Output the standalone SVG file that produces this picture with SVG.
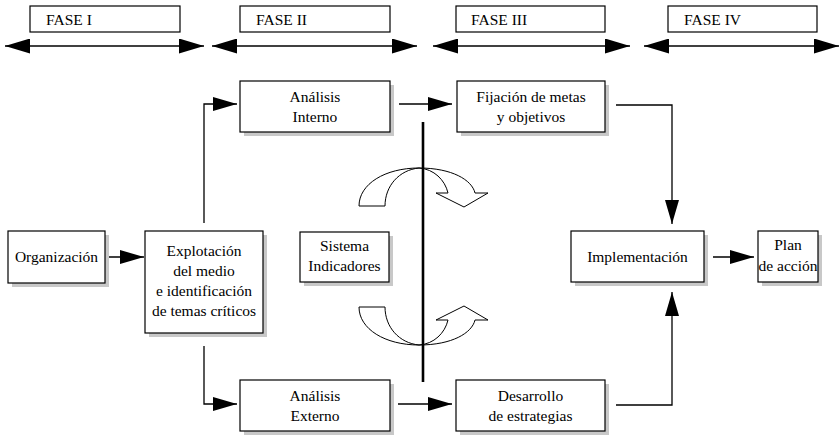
<svg xmlns="http://www.w3.org/2000/svg" width="840" height="435" viewBox="0 0 840 435" font-family="'Liberation Serif', 'Times New Roman', Times, serif">
<defs>
<style>
text{font-family:'Liberation Serif','Times New Roman',Times,serif;font-size:15.5px;fill:#000}
.c{text-anchor:middle}
.box{fill:#fff;stroke:#000;stroke-width:1.2}
.sh{fill:#c8c8c8}
.ph{fill:#fff;stroke:#000;stroke-width:1.2}
.pa{fill:none;stroke:#000;stroke-width:1.6;marker-start:url(#h2s);marker-end:url(#h2)}
.cn{fill:none;stroke:#000;stroke-width:1.3;marker-end:url(#h)}
.rot{fill:#fff;stroke:#000;stroke-width:1}
</style>
<marker id="h" markerUnits="userSpaceOnUse" markerWidth="26" markerHeight="16" refX="24" refY="7" orient="auto">
<path d="M0,0 L24,7 L0,14 z" fill="#000"/>
</marker>
<marker id="h2" markerUnits="userSpaceOnUse" markerWidth="27" markerHeight="17" refX="25" refY="7.5" orient="auto">
<path d="M0,0 L25,7.5 L0,15 z" fill="#000"/>
</marker>
<marker id="h2s" markerUnits="userSpaceOnUse" markerWidth="27" markerHeight="17" refX="0" refY="7.5" orient="auto">
<path d="M25,0 L0,7.5 L25,15 z" fill="#000"/>
</marker>
</defs>

<g id="phases">
<g id="fase1"><rect class="ph" x="30" y="6" width="150" height="26"/><text x="46" y="25">FASE I</text><line class="pa" x1="5" y1="46" x2="204" y2="46"/></g>
<g id="fase2"><rect class="ph" x="240" y="6" width="150" height="26"/><text x="256" y="25">FASE II</text><line class="pa" x1="212" y1="46" x2="417" y2="46"/></g>
<g id="fase3"><rect class="ph" x="456" y="6" width="149" height="26"/><text x="471" y="25">FASE III</text><line class="pa" x1="433" y1="46" x2="630" y2="46"/></g>
<g id="fase4"><rect class="ph" x="668" y="6" width="149" height="26"/><text x="684" y="25">FASE IV</text><line class="pa" x1="644" y1="46" x2="839" y2="46"/></g>
</g>

<g id="rotations">
<path id="rotTop" class="rot" d="M359,206 C359,184 385,168 419,168 C452,168 472,180 475,193 L488,193 L464,207 L436,193 L448,193 C445,180 434,169 419,168 C399,170 385,186 385,206 Z"/>
<path id="rotBottom" class="rot" transform="translate(0,513) scale(1,-1)" d="M359,206 C359,184 385,168 419,168 C452,168 472,180 475,193 L488,193 L464,207 L436,193 L448,193 C445,180 434,169 419,168 C399,170 385,186 385,206 Z"/>
<line x1="423" y1="122" x2="423" y2="382" stroke="#000" stroke-width="2.6"/>
</g>

<g id="connectors">
<line class="cn" x1="109" y1="257" x2="144" y2="257"/>
<polyline class="cn" points="204,223 204,104 237,104"/>
<polyline class="cn" points="204,346 204,404 237,404"/>
<line class="cn" x1="399" y1="104" x2="452" y2="104"/>
<line class="cn" x1="398" y1="404" x2="452" y2="404"/>
<polyline class="cn" points="616,105 672,105 672,224"/>
<polyline class="cn" points="616,405 672,405 672,292"/>
<line class="cn" x1="713" y1="257" x2="754" y2="257"/>
</g>

<g id="organizacion"><rect class="sh" x="12" y="235" width="97" height="52"/><rect class="box" x="8" y="231" width="97" height="52"/><text class="c" x="56.5" y="262">Organización</text></g>

<g id="explotacion"><rect class="sh" x="149" y="235" width="118" height="102"/><rect class="box" x="145" y="231" width="118" height="102"/>
<text class="c" x="204" y="256">Explotación</text><text class="c" x="204" y="276">del medio</text><text class="c" x="204" y="296">e identificación</text><text class="c" x="204" y="316">de temas críticos</text></g>

<g id="analisisInterno"><rect class="sh" x="244" y="85" width="150" height="51"/><rect class="box" x="240" y="81" width="150" height="51"/>
<text class="c" x="315" y="102">Análisis</text><text class="c" x="315" y="122">Interno</text></g>

<g id="analisisExterno"><rect class="sh" x="244" y="384" width="150" height="51"/><rect class="box" x="240" y="380" width="150" height="51"/>
<text class="c" x="315" y="401">Análisis</text><text class="c" x="315" y="421">Externo</text></g>

<g id="sistema"><rect class="sh" x="304" y="236" width="89" height="50"/><rect class="box" x="300" y="232" width="89" height="50"/>
<text class="c" x="344.5" y="251">Sistema</text><text class="c" x="344.5" y="271">Indicadores</text></g>

<g id="fijacion"><rect class="sh" x="461" y="85" width="148" height="51"/><rect class="box" x="457" y="81" width="148" height="51"/>
<text class="c" x="531" y="102">Fijación de metas</text><text class="c" x="531" y="122">y objetivos</text></g>

<g id="desarrollo"><rect class="sh" x="460" y="384" width="149" height="51"/><rect class="box" x="456" y="380" width="149" height="51"/>
<text class="c" x="530.5" y="401">Desarrollo</text><text class="c" x="530.5" y="421">de estrategias</text></g>

<g id="implementacion"><rect class="sh" x="575" y="235" width="133" height="51"/><rect class="box" x="571" y="231" width="133" height="51"/>
<text class="c" x="637.5" y="262">Implementación</text></g>

<g id="plan"><rect class="sh" x="762" y="235" width="60" height="51"/><rect class="box" x="758" y="231" width="60" height="51"/>
<text class="c" x="788" y="250">Plan</text><text class="c" x="788" y="271">de acción</text></g>
</svg>
